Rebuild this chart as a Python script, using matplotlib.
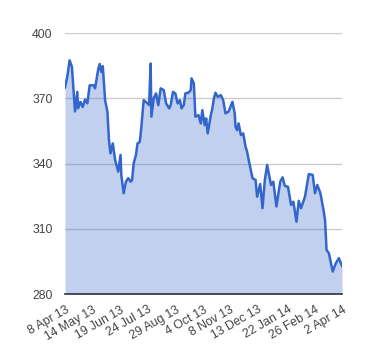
import pandas as pd
import matplotlib
matplotlib.use("Agg")
import matplotlib.pyplot as plt

plt.rcParams['font.family'] = ['Liberation Sans', 'DejaVu Sans']

dates = [
    "2013-04-08", "2013-04-11", "2013-04-14", "2013-04-17", "2013-04-21", "2013-04-24",
    "2013-04-25", "2013-04-28", "2013-05-01", "2013-05-04", "2013-05-07", "2013-05-10",
    "2013-05-15", "2013-05-17", "2013-05-21", "2013-05-23", "2013-05-25", "2013-05-27",
    "2013-05-30", "2013-06-02", "2013-06-04", "2013-06-06", "2013-06-09", "2013-06-12",
    "2013-06-16", "2013-06-19", "2013-06-20", "2013-06-23", "2013-06-26", "2013-06-29",
    "2013-07-02", "2013-07-04", "2013-07-06", "2013-07-09", "2013-07-11", "2013-07-14",
    "2013-07-16", "2013-07-19", "2013-07-24", "2013-07-26", "2013-07-28", "2013-07-29",
    "2013-08-01", "2013-08-04", "2013-08-07", "2013-08-10", "2013-08-14", "2013-08-17",
    "2013-08-21", "2013-08-23", "2013-08-26", "2013-08-29", "2013-09-01", "2013-09-04",
    "2013-09-06", "2013-09-09", "2013-09-11", "2013-09-15", "2013-09-18", "2013-09-19",
    "2013-09-22", "2013-09-24", "2013-09-28", "2013-10-01", "2013-10-03", "2013-10-06",
    "2013-10-08", "2013-10-10", "2013-10-14", "2013-10-16", "2013-10-18", "2013-10-20",
    "2013-10-23", "2013-10-27", "2013-10-30", "2013-11-02", "2013-11-06", "2013-11-11",
    "2013-11-14", "2013-11-15", "2013-11-17", "2013-11-19", "2013-11-22", "2013-11-25",
    "2013-11-28", "2013-11-30", "2013-12-03", "2013-12-07", "2013-12-11", "2013-12-13",
    "2013-12-17", "2013-12-20", "2013-12-23", "2013-12-26", "2013-12-31", "2014-01-03",
    "2014-01-07", "2014-01-12", "2014-01-15", "2014-01-18", "2014-01-22", "2014-01-26",
    "2014-01-29", "2014-02-02", "2014-02-05", "2014-02-08", "2014-02-13", "2014-02-18",
    "2014-02-23", "2014-02-26", "2014-03-01", "2014-03-05", "2014-03-09", "2014-03-11",
    "2014-03-13", "2014-03-16", "2014-03-21", "2014-03-25", "2014-03-29", "2014-04-02",
]
values = [
    375.0, 380.0, 387.5, 384.5, 364.0, 373.0,
    365.4, 368.4, 366.0, 369.5, 367.7, 376.0,
    376.0, 374.6, 383.3, 385.8, 382.2, 384.8,
    369.2, 363.9, 350.8, 344.7, 349.3, 341.7,
    336.3, 344.0, 334.8, 326.4, 331.7, 333.3,
    331.7, 332.5, 340.1, 344.0, 349.3, 350.0,
    357.0, 369.2, 367.7, 366.9, 386.0, 361.6,
    370.0, 372.3, 366.9, 374.6, 373.8, 367.7,
    365.4, 367.0, 373.0, 372.3, 367.7, 369.2,
    365.4, 366.9, 372.3, 372.6, 373.8, 379.2,
    376.9, 361.6, 362.3, 358.5, 364.6, 357.7,
    360.8, 353.9, 362.3, 365.4, 370.0, 372.6,
    370.7, 371.5, 369.2, 363.1, 363.9, 368.4,
    363.1, 357.0, 355.4, 358.5, 353.1, 353.9,
    347.8, 345.5, 340.1, 333.3, 332.5, 324.8,
    330.6, 319.5, 332.5, 339.4, 330.2, 331.7,
    320.3, 331.7, 333.7, 329.7, 329.4, 321.0,
    322.5, 313.3, 322.9, 319.5, 324.8, 335.2,
    334.8, 326.4, 330.2, 326.4, 318.7, 314.1,
    300.3, 298.8, 290.4, 294.2, 296.5, 293.0,
]

tick_dates = ["2013-04-08", "2013-05-14", "2013-06-19", "2013-07-24", "2013-08-29",
              "2013-10-04", "2013-11-08", "2013-12-13", "2014-01-22", "2014-02-26",
              "2014-04-02"]
tick_labels = ["8 Apr 13", "14 May 13", "19 Jun 13", "24 Jul 13", "29 Aug 13",
               "4 Oct 13", "8 Nov 13", "13 Dec 13", "22 Jan 14", "26 Feb 14",
               "2 Apr 14"]
y_ticks = [280, 310, 340, 370, 400]

x = pd.to_datetime(dates)

fig = plt.figure(figsize=(3.8, 3.6), dpi=100)
ax = fig.add_axes([0.171, 0.183, 0.729, 0.725])

ax.fill_between(x, values, 280, color='#3366cc', alpha=0.3, linewidth=0)
ax.plot(x, values, color='#3366cc', linewidth=1.8)

ax.set_ylim(280, 400)
ax.set_xlim(pd.Timestamp("2013-04-08"), pd.Timestamp("2014-04-02"))
ax.set_yticks(y_ticks)
ax.set_yticklabels([str(v) for v in y_ticks])
ax.set_xticks(pd.to_datetime(tick_dates))
ax.set_xticklabels(tick_labels, rotation=30, ha='right', rotation_mode='anchor')

ax.grid(axis='y', color='#cccccc', linewidth=1)
ax.set_axisbelow(True)
for side in ['top', 'right', 'left']:
    ax.spines[side].set_visible(False)
ax.spines['bottom'].set_color('#333333')
ax.spines['bottom'].set_linewidth(1.2)
ax.tick_params(axis='both', length=0, labelsize=8.8, colors='#444444')
ax.tick_params(axis='y', pad=9)
ax.tick_params(axis='x', pad=7)

fig.savefig("out.png", dpi=100)
plt.close(fig)
